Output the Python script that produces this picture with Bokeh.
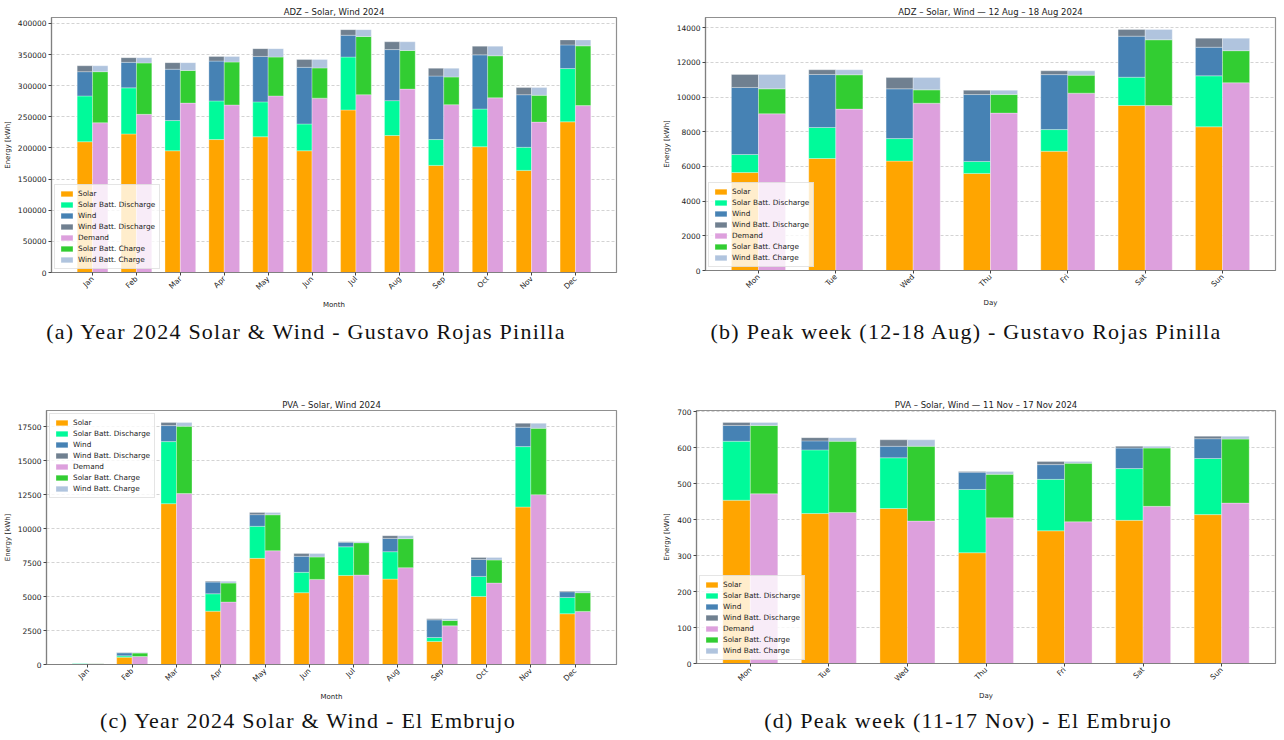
import math
import numpy as np
from bokeh.plotting import figure
from bokeh.models import ColumnDataSource, FixedTicker, NumeralTickFormatter, Range1d, Div, Spacer
from bokeh.layouts import row, column
from bokeh.embed import file_html
from bokeh.resources import INLINE

# ---------------- data ----------------
months = ["Jan", "Feb", "Mar", "Apr", "May", "Jun", "Jul", "Aug", "Sep", "Oct", "Nov", "Dec"]
days = ["Mon", "Tue", "Wed", "Thu", "Fri", "Sat", "Sun"]

# ADZ - year 2024 (kWh)
adz_y_solar = [210000, 222500, 195500, 213500, 218000, 195500, 261000, 220000, 172000, 202000, 164000, 242000]
adz_y_sbd = [73500, 74000, 48500, 62000, 56000, 43000, 85000, 56000, 41500, 60500, 37000, 85500]
adz_y_wind = [39000, 41000, 82500, 64000, 73000, 91000, 35000, 82000, 102000, 87000, 84500, 38000]
adz_y_wbd = [9500, 7500, 10500, 7500, 12500, 12500, 9000, 12500, 12500, 14000, 11500, 8000]
adz_y_demand = [240500, 254000, 272000, 269000, 283500, 280000, 285500, 294500, 269500, 280500, 241500, 268000]
adz_y_sbc = [82000, 82500, 52500, 69000, 62500, 48500, 93500, 62000, 44500, 67500, 43000, 96000]
adz_y_wbc = [9500, 8500, 12500, 9000, 13500, 13500, 11000, 14000, 14000, 15500, 12500, 9500]

# ADZ - week 12-18 Aug 2024 (kWh)
adz_w_solar = [5650, 6460, 6310, 5600, 6880, 9520, 8290]
adz_w_sbd = [1040, 1790, 1300, 690, 1250, 1630, 2940]
adz_w_wind = [3870, 3060, 2870, 3860, 3170, 2370, 1650]
adz_w_wbd = [750, 270, 650, 250, 220, 380, 520]
adz_w_demand = [9040, 9310, 9650, 9080, 10230, 9520, 10830]
adz_w_sbc = [1440, 1980, 770, 1070, 1040, 3790, 1850]
adz_w_wbc = [830, 290, 710, 250, 250, 590, 720]

# PVA - year 2024 (kWh)
pva_y_solar = [0, 540, 11850, 3930, 7820, 5290, 6560, 6290, 1700, 5010, 11600, 3740]
pva_y_sbd = [90, 100, 4570, 1280, 2360, 1500, 2110, 2020, 290, 1480, 4450, 1200]
pva_y_wind = [10, 220, 1180, 860, 860, 1180, 340, 980, 1300, 1250, 1430, 420]
pva_y_wbd = [0, 20, 220, 70, 150, 200, 30, 200, 80, 150, 290, 50]
pva_y_demand = [70, 590, 12590, 4600, 8380, 6270, 6590, 7130, 2850, 6000, 12510, 3910]
pva_y_sbc = [30, 250, 4960, 1400, 2650, 1650, 2380, 2140, 390, 1700, 4890, 1380]
pva_y_wbc = [0, 40, 270, 140, 160, 250, 70, 220, 130, 190, 370, 120]

# PVA - week 11-17 Nov 2024 (kWh)
pva_w_solar = [454, 417, 431, 308, 369, 398, 414]
pva_w_sbd = [164, 177, 141, 176, 143, 144, 156]
pva_w_wind = [44, 25, 32, 48, 41, 57, 55]
pva_w_wbd = [8, 9, 18, 2, 9, 5, 7]
pva_w_demand = [472, 420, 396, 405, 394, 437, 446]
pva_w_sbc = [190, 198, 208, 121, 163, 162, 178]
pva_w_wbc = [8, 10, 18, 8, 5, 5, 8]

captions = ["(a) Year 2024 Solar & Wind - Gustavo Rojas Pinilla",
            "(b) Peak week (12-18 Aug) - Gustavo Rojas Pinilla",
            "(c) Year 2024 Solar & Wind - El Embrujo",
            "(d) Peak week (11-17 Nov) - El Embrujo"]

supply_names = ["Solar", "Solar Batt. Discharge", "Wind", "Wind Batt. Discharge"]
use_names = ["Demand", "Solar Batt. Charge", "Wind Batt. Charge"]
supply_colors = ["#FFA500", "#00FA9A", "#4682B4", "#708090"]
use_colors = ["#DDA0DD", "#32CD32", "#B0C4DE"]

FONT = "DejaVu Sans"


def make_panel(title, cats, supply, use, xlabel, yticks, legend_loc, bl, bt, fw, fh, br, bb):
    n = len(cats)
    xs = np.arange(n)
    data = dict(x1=xs - 0.175, x2=xs + 0.175)
    skeys = ["s%d" % i for i in range(4)]
    ukeys = ["u%d" % i for i in range(3)]
    for k, v in zip(skeys, supply):
        data[k] = v
    for k, v in zip(ukeys, use):
        data[k] = v
    src = ColumnDataSource(data)
    totals = np.sum(np.array(supply, dtype=float), axis=0)
    ymax = float(totals.max()) * 1.05
    span = (n - 1) + 0.7
    p = figure(frame_width=fw, frame_height=fh,
               min_border_left=bl, min_border_top=bt, min_border_right=br, min_border_bottom=bb,
               x_range=Range1d(-0.35 - 0.05 * span, n - 1 + 0.35 + 0.05 * span),
               y_range=Range1d(0, ymax),
               output_backend="svg", toolbar_location=None, title=title)
    p.vbar_stack(skeys, x="x1", width=0.35, color=supply_colors, source=src,
                 line_color="white", line_width=0.5, line_alpha=0.6,
                 legend_label=supply_names)
    p.vbar_stack(ukeys, x="x2", width=0.35, color=use_colors, source=src,
                 line_color="white", line_width=0.5, line_alpha=0.6,
                 legend_label=use_names)

    p.title.align = "center"
    p.title.text_font = FONT
    p.title.text_font_size = "8.5px"
    p.title.text_font_style = "normal"
    p.title.text_color = "#222222"
    p.title.standoff = 1

    p.xaxis.ticker = FixedTicker(ticks=list(range(n)))
    p.xaxis.major_label_overrides = {i: c for i, c in enumerate(cats)}
    p.xaxis.major_label_orientation = math.pi / 4
    p.xaxis.axis_label = xlabel
    p.yaxis.axis_label = "Energy [kWh]"
    p.yaxis.ticker = FixedTicker(ticks=yticks)
    p.yaxis.formatter = NumeralTickFormatter(format="0")
    for ax in (p.xaxis[0], p.yaxis[0]):
        ax.major_label_text_font = FONT
        ax.major_label_text_font_size = "7.5px"
        ax.major_label_text_color = "#222222"
        ax.axis_label_text_font = FONT
        ax.axis_label_text_font_size = "7px"
        ax.axis_label_text_font_style = "normal"
        ax.axis_label_text_color = "#222222"
        ax.axis_label_standoff = 3
        ax.major_label_standoff = 2
        ax.major_tick_out = 3
        ax.major_tick_in = 0
        ax.minor_tick_line_color = None
        ax.axis_line_color = "#808080"
        ax.axis_line_width = 1.2
        ax.major_tick_line_color = "#444444"
    p.outline_line_color = "#909090"
    p.outline_line_width = 1.2
    p.xgrid.grid_line_color = None
    p.ygrid.grid_line_color = "#c8c8c8"
    p.ygrid.grid_line_dash = "3 2"
    p.ygrid.grid_line_width = 0.8

    lg = p.legend[0]
    lg.location = legend_loc
    lg.label_text_font = FONT
    lg.label_text_font_size = "7.3px"
    lg.label_text_color = "#222222"
    lg.glyph_height = 7
    lg.glyph_width = 15
    lg.label_height = 9
    lg.label_standoff = 4
    lg.spacing = 2
    lg.padding = 4
    lg.margin = 3
    lg.border_line_color = "#cccccc"
    lg.background_fill_alpha = 0.8
    return p


def caption_div(text, width, height, line_height):
    return Div(text=text, render_as_text=True, width=width, height=height, margin=(0, 0, 0, 0),
               styles={"font-family": "Liberation Serif", "font-size": "22px",
                       "letter-spacing": "1.25px",
                       "text-align": "center", "line-height": "%dpx" % line_height,
                       "color": "#111111", "white-space": "nowrap"})


pa = make_panel("ADZ \u2013 Solar, Wind 2024", months,
                [adz_y_solar, adz_y_sbd, adz_y_wind, adz_y_wbd],
                [adz_y_demand, adz_y_sbc, adz_y_wbc],
                "Month", list(range(0, 400001, 50000)), "bottom_left",
                42, 16, 565, 255, 33, 35)
pb = make_panel("ADZ \u2013 Solar, Wind \u2014 12 Aug \u2013 18 Aug 2024", days,
                [adz_w_solar, adz_w_sbd, adz_w_wind, adz_w_wbd],
                [adz_w_demand, adz_w_sbc, adz_w_wbc],
                "Day", list(range(0, 14001, 2000)), "bottom_left",
                56, 17, 570, 253, 2, 36)
pc = make_panel("PVA \u2013 Solar, Wind 2024", months,
                [pva_y_solar, pva_y_sbd, pva_y_wind, pva_y_wbd],
                [pva_y_demand, pva_y_sbc, pva_y_wbc],
                "Month", list(range(0, 17501, 2500)), "top_left",
                37, 55, 570, 254, 33, 36)
pd_ = make_panel("PVA \u2013 Solar, Wind \u2014 11 Nov \u2013 17 Nov 2024", days,
                 [pva_w_solar, pva_w_sbd, pva_w_wind, pva_w_wbd],
                 [pva_w_demand, pva_w_sbc, pva_w_wbc],
                 "Day", list(range(0, 701, 100)), "bottom_left",
                 47, 55, 579, 253, 2, 37)

da = caption_div(captions[0], 596, 45, 44)
db = caption_div(captions[1], 600, 45, 44)
dc = caption_div(captions[2], 598, 28, 36)
dd = caption_div(captions[3], 600, 28, 36)

layout = column(row(pa, pb),
                row(Spacer(width=8, height=10), da, Spacer(width=62, height=10), db),
                row(pc, pd_),
                row(Spacer(width=9, height=10), dc, Spacer(width=61, height=10), dd))
open("out.html", "w").write(file_html(layout, INLINE))
